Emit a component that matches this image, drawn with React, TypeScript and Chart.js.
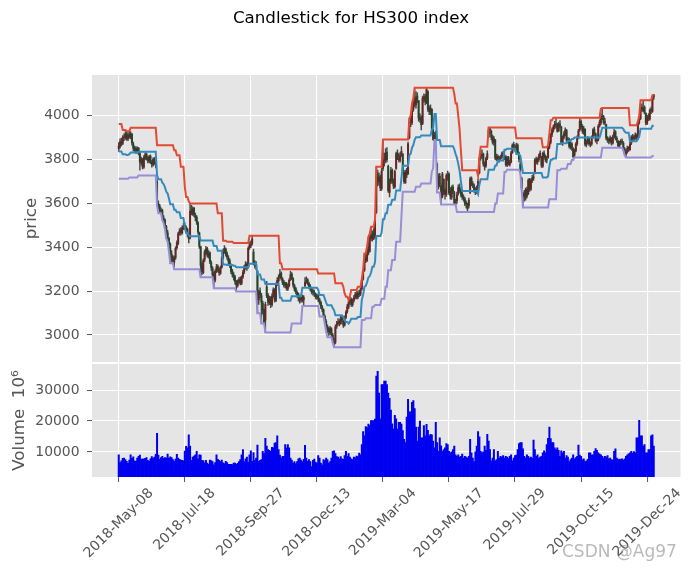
import React, { useEffect, useRef } from 'react';
import { Chart, registerables } from 'chart.js';

Chart.register(...registerables);

const TITLE = 'Candlestick for HS300 index';
const tickIndex = [0, 50, 100, 150, 200, 250, 300, 350, 400];
const tickLabels = ['2018-May-08', '2018-Jul-18', '2018-Sep-27', '2018-Dec-13', '2019-Mar-04', '2019-May-17', '2019-Jul-29', '2019-Oct-15', '2019-Dec-24'];
const priceTicks = [3000, 3200, 3400, 3600, 3800, 4000];
const volumeTicks = [10000, 20000, 30000];

const opens = [
3850,3860,3884,3874,3900,3900,3918,3895,3914,3902,
3915,3872,3850,3852,3838,3851,3828,3785,3800,3766,
3808,3825,3806,3793,3815,3788,3776,3803,3785,3700,
3598,3588,3570,3568,3532,3524,3495,3466,3440,3415,
3370,3355,3332,3354,3398,3418,3466,3478,3465,3490,
3500,3490,3482,3458,3442,3570,3555,3578,3545,3538,
3512,3466,3402,3320,3284,3345,3375,3396,3360,3375,
3330,3305,3280,3250,3292,3312,3296,3282,3310,3350,
3384,3392,3372,3352,3340,3318,3292,3275,3265,3242,
3225,3242,3255,3236,3265,3288,3308,3325,3310,3398,
3408,3418,3380,3325,3312,3290,3160,3200,3180,3146,
3115,3068,3220,3182,3146,3168,3138,3180,3208,3158,
3235,3248,3265,3282,3255,3242,3225,3235,3212,3225,
3255,3278,3258,3225,3212,3195,3188,3165,3158,3178,
3160,3225,3245,3252,3235,3222,3210,3202,3192,3186,
3172,3180,3162,3148,3128,3115,3085,3062,3038,3028,
3012,3028,3000,2970,2968,3040,3052,3062,3052,3080,
3062,3046,3082,3108,3128,3152,3162,3138,3158,3172,
3188,3172,3192,3186,3210,3255,3296,3352,3342,3398,
3382,3455,3438,3465,3448,3560,3735,3698,3722,3668,
3760,3796,3798,3834,3770,3650,3698,3752,3698,3676,
3760,3830,3808,3796,3822,3825,3742,3695,3745,3735,
3900,3978,3968,4028,4070,4050,4090,4068,3982,3995,
3965,4078,4090,4062,4110,4035,4018,4030,3935,3888,
3915,3780,3680,3725,3680,3632,3710,3660,3640,3722,
3735,3655,3628,3675,3650,3598,3612,3645,3675,3660,
3645,3630,3620,3604,3598,3590,3650,3715,3690,3682,
3660,3652,3670,3740,3808,3820,3825,3778,3772,3808,
3905,3940,3930,3905,3878,3890,3805,3815,3798,3806,
3812,3828,3815,3812,3775,3810,3778,3790,3832,3870,
3855,3845,3866,3830,3780,3715,3640,3645,3625,3665,
3645,3710,3665,3705,3722,3740,3802,3788,3800,3815,
3810,3770,3830,3815,3798,3810,3858,3880,3915,3936,
3950,3962,3955,3932,3962,3950,3872,3902,3915,3932,
3885,3892,3858,3872,3850,3820,3840,3872,3902,3935,
3972,3952,3925,3938,3868,3880,3898,3870,3872,3905,
3938,3918,3885,3890,3955,3968,3992,3995,3968,3960,
3895,3892,3882,3895,3875,3906,3928,3898,3885,3860,
3878,3885,3876,3848,3825,3838,3852,3846,3875,3905,
3895,3900,3912,3905,3970,3988,4038,4025,4038,4010,
3965,3998,3985,4028,4020,4085
];

const highs = [
3878,3895,3898,3910,3918,3928,3925,3922,3930,3928,
3920,3880,3862,3860,3858,3856,3834,3812,3806,3818,
3832,3830,3815,3820,3822,3796,3808,3810,3792,3712,
3612,3596,3580,3574,3545,3530,3500,3478,3446,3420,
3385,3362,3360,3402,3430,3468,3486,3490,3498,3510,
3512,3498,3488,3465,3600,3592,3585,3582,3556,3545,
3518,3470,3406,3332,3348,3388,3405,3400,3385,3380,
3338,3312,3288,3298,3322,3320,3306,3315,3360,3392,
3408,3398,3380,3362,3348,3325,3300,3285,3272,3250,
3252,3262,3265,3270,3295,3318,3335,3330,3402,3425,
3430,3453,3392,3340,3335,3295,3205,3215,3190,3155,
3120,3150,3245,3190,3178,3175,3188,3215,3212,3238,
3262,3275,3300,3288,3262,3250,3242,3240,3232,3258,
3290,3285,3262,3232,3218,3202,3192,3175,3185,3182,
3180,3262,3266,3258,3242,3230,3218,3210,3205,3192,
3188,3186,3168,3155,3136,3120,3092,3070,3046,3035,
3040,3034,3008,2985,3045,3062,3075,3070,3085,3090,
3068,3088,3112,3140,3160,3175,3170,3165,3180,3195,
3198,3200,3205,3215,3255,3300,3372,3368,3405,3448,
3462,3494,3475,3485,3528,3767,3752,3740,3730,3760,
3892,3830,3850,3855,3775,3712,3765,3758,3712,3752,
3835,3845,3828,3832,3860,3828,3750,3752,3760,3880,
3988,4000,4040,4080,4125,4110,4105,4070,4010,4000,
4090,4100,4098,4128,4115,4045,4050,4032,3942,3925,
3930,3785,3735,3738,3690,3742,3712,3668,3735,3748,
3740,3672,3680,3685,3655,3620,3652,3685,3690,3668,
3655,3640,3628,3612,3602,3625,3720,3722,3700,3690,
3672,3680,3712,3810,3840,3845,3830,3790,3812,3840,
3946,3945,3935,3912,3905,3892,3825,3822,3815,3820,
3835,3838,3825,3818,3815,3815,3798,3838,3872,3880,
3868,3875,3872,3835,3790,3720,3652,3660,3670,3675,
3712,3715,3712,3728,3735,3805,3812,3808,3825,3840,
3815,3835,3840,3822,3815,3865,3885,3920,3945,3958,
3975,3991,3965,3970,3978,3952,3908,3928,3945,3938,
3902,3898,3880,3878,3855,3848,3878,3908,3938,3988,
3982,3960,3952,3942,3890,3905,3902,3882,3908,3942,
3948,3922,3898,3960,3982,4010,4036,4002,3988,3962,
3905,3900,3908,3902,3912,3938,3932,3905,3888,3885,
3892,3895,3882,3855,3845,3862,3860,3880,3910,3915,
3912,3922,3918,3975,3998,4045,4055,4071,4045,4015,
4002,4010,4032,4040,4088,4094
];

const lows = [
3838,3852,3862,3868,3886,3892,3888,3886,3898,3895,
3866,3840,3832,3828,3830,3822,3752,3776,3758,3760,
3800,3798,3785,3786,3782,3766,3770,3778,3762,3590,
3575,3560,3556,3524,3510,3482,3440,3426,3395,3327,
3335,3328,3300,3345,3390,3412,3455,3455,3460,3480,
3482,3466,3448,3420,3438,3548,3545,3540,3522,3505,
3460,3395,3263,3275,3280,3335,3365,3355,3350,3325,
3295,3262,3213,3242,3285,3288,3272,3276,3305,3345,
3372,3360,3345,3326,3308,3280,3265,3250,3232,3198,
3218,3235,3228,3230,3258,3280,3300,3295,3305,3390,
3398,3410,3320,3305,3298,3099,3140,3170,3053,3095,
3055,3012,3170,3135,3138,3125,3130,3172,3150,3152,
3225,3240,3258,3250,3230,3218,3215,3205,3202,3220,
3248,3252,3218,3200,3188,3172,3155,3145,3150,3150,
3132,3218,3235,3228,3210,3200,3188,3182,3176,3165,
3162,3152,3140,3120,3105,3084,3055,3030,3010,2998,
3002,2992,2965,2944,2960,3030,3045,3042,3048,3058,
3035,3040,3075,3100,3120,3140,3130,3130,3150,3165,
3165,3165,3175,3180,3205,3250,3290,3330,3335,3365,
3378,3430,3428,3435,3440,3555,3680,3685,3658,3660,
3750,3770,3785,3790,3650,3630,3690,3692,3668,3670,
3755,3800,3790,3788,3815,3742,3691,3692,3718,3732,
3895,3950,3960,4020,4040,4035,4060,3975,3970,3935,
3960,4062,4050,4055,4020,4005,4005,3930,3890,3889,
3895,3652,3665,3675,3595,3625,3640,3620,3632,3705,
3640,3620,3618,3645,3595,3590,3600,3638,3650,3630,
3618,3610,3590,3580,3561,3580,3645,3680,3672,3650,
3640,3645,3665,3735,3798,3805,3770,3752,3765,3800,
3900,3918,3890,3870,3865,3800,3795,3790,3788,3795,
3805,3808,3800,3770,3768,3775,3770,3785,3828,3845,
3838,3835,3828,3790,3738,3660,3582,3610,3615,3625,
3640,3655,3660,3695,3705,3735,3780,3778,3792,3808,
3765,3765,3805,3790,3785,3805,3850,3872,3905,3925,
3940,3945,3925,3928,3945,3870,3865,3895,3908,3882,
3875,3852,3848,3842,3808,3810,3835,3865,3895,3930,
3940,3920,3915,3862,3858,3872,3865,3858,3865,3898,
3910,3880,3872,3885,3948,3960,3982,3962,3958,3890,
3878,3872,3875,3866,3870,3898,3890,3878,3855,3856,
3868,3870,3842,3820,3810,3830,3838,3842,3868,3888,
3885,3892,3890,3900,3962,3982,4020,4018,4008,3958,
3960,3978,3980,4010,4015,4075
];

const closes = [
3862,3881,3876,3898,3902,3915,3898,3912,3906,3918,
3876,3852,3848,3841,3849,3832,3788,3802,3768,3810,
3822,3808,3796,3812,3790,3779,3801,3787,3774,3601,
3590,3572,3565,3536,3520,3498,3462,3445,3412,3374,
3352,3338,3352,3396,3420,3462,3474,3468,3488,3497,
3492,3480,3460,3438,3564,3560,3574,3548,3535,3515,
3470,3405,3318,3290,3340,3378,3392,3365,3372,3335,
3308,3275,3252,3290,3310,3298,3285,3306,3352,3380,
3395,3370,3355,3338,3320,3290,3276,3262,3245,3228,
3240,3252,3238,3262,3285,3310,3322,3305,3395,3410,
3415,3438,3330,3318,3322,3165,3195,3185,3150,3112,
3060,3140,3180,3150,3165,3140,3178,3205,3160,3230,
3250,3262,3280,3258,3240,3228,3232,3215,3222,3250,
3275,3262,3228,3210,3198,3185,3168,3160,3175,3162,
3172,3240,3250,3238,3220,3212,3200,3195,3188,3175,
3178,3165,3150,3130,3118,3090,3068,3040,3025,3015,
3030,3005,2975,2964,3036,3050,3060,3055,3078,3068,
3045,3080,3105,3130,3150,3160,3140,3155,3170,3185,
3175,3190,3185,3205,3250,3290,3350,3340,3395,3375,
3450,3440,3460,3445,3520,3729,3700,3720,3672,3748,
3794,3800,3830,3800,3658,3695,3750,3700,3680,3745,
3826,3810,3800,3820,3838,3750,3700,3740,3730,3872,
3973,3970,4022,4063,4057,4085,4075,3990,3988,3960,
4080,4085,4065,4120,4030,4020,4035,3940,3890,3910,
3913,3688,3721,3689,3628,3734,3654,3643,3727,3728,
3648,3634,3670,3655,3603,3606,3640,3672,3662,3641,
3630,3623,3600,3597,3575,3616,3712,3688,3685,3659,
3655,3667,3701,3803,3818,3822,3780,3768,3805,3826,
3935,3937,3902,3880,3896,3808,3810,3800,3804,3808,
3826,3818,3810,3777,3808,3780,3787,3830,3866,3858,
3848,3864,3835,3802,3747,3669,3634,3632,3661,3634,
3706,3668,3704,3716,3716,3799,3790,3798,3816,3830,
3775,3828,3812,3800,3800,3860,3876,3913,3935,3949,
3960,3959,3930,3960,3954,3877,3900,3918,3935,3890,
3890,3860,3870,3853,3814,3838,3870,3900,3930,3975,
3950,3930,3940,3870,3878,3895,3872,3870,3900,3935,
3920,3887,3886,3952,3970,3990,3998,3970,3973,3898,
3890,3885,3898,3877,3904,3925,3900,3890,3862,3877,
3880,3880,3850,3828,3836,3851,3849,3871,3902,3897,
3903,3910,3900,3968,3985,4033,4030,4034,4017,3967,
3994,3990,4025,4023,4081,4097
];

const upperBand = [
3962,3962,3962,3935,3935,3935,3930,3930,3930,3945,
3945,3945,3945,3945,3945,3945,3945,3945,3945,3945,
3945,3945,3945,3945,3945,3945,3945,3945,3945,3866,
3866,3866,3866,3866,3866,3866,3866,3866,3866,3866,
3866,3866,3843,3843,3820,3820,3820,3767,3767,3767,
3676,3630,3630,3610,3600,3600,3600,3600,3600,3600,
3600,3600,3600,3600,3600,3600,3600,3600,3600,3600,
3600,3600,3600,3600,3600,3555,3555,3555,3555,3430,
3430,3430,3425,3425,3425,3425,3425,3420,3420,3420,
3420,3420,3420,3420,3420,3420,3420,3420,3420,3453,
3453,3453,3453,3453,3453,3453,3453,3453,3453,3453,
3453,3453,3453,3453,3453,3453,3453,3453,3453,3453,
3453,3453,3327,3327,3300,3300,3300,3300,3300,3300,
3300,3300,3300,3300,3300,3300,3300,3300,3300,3300,
3300,3300,3300,3300,3300,3300,3300,3300,3300,3300,
3300,3281,3281,3281,3281,3281,3281,3281,3281,3281,
3281,3281,3281,3281,3236,3236,3236,3236,3236,3236,
3220,3190,3175,3175,3160,3178,3205,3205,3205,3205,
3205,3220,3220,3220,3255,3300,3372,3372,3405,3448,
3462,3494,3494,3494,3528,3767,3767,3767,3767,3767,
3892,3892,3892,3892,3892,3892,3892,3892,3892,3892,
3892,3892,3892,3892,3892,3892,3892,3892,3892,3892,
3988,4000,4056,4080,4128,4128,4128,4128,4128,4128,
4128,4128,4128,4128,4128,4128,4128,4128,4128,4128,
4128,4128,4128,4128,4128,4128,4128,4128,4128,4128,
4128,4128,4128,4128,4100,4056,4056,4000,3940,3843,
3752,3752,3752,3752,3752,3752,3752,3752,3752,3752,
3752,3752,3725,3810,3859,3859,3859,3859,3859,3859,
3946,3946,3946,3946,3946,3946,3946,3946,3946,3946,
3946,3946,3946,3946,3946,3946,3946,3946,3946,3946,
3946,3897,3897,3897,3897,3897,3897,3897,3897,3897,
3897,3897,3897,3897,3897,3897,3897,3897,3897,3897,
3897,3856,3856,3856,3856,3865,3920,3980,3980,3991,
3991,3991,3991,3991,3991,3991,3991,3991,3991,3991,
3991,3991,3991,3991,3991,3991,3991,3991,3991,3991,
3991,3991,3991,3991,3991,3991,3991,3991,3991,3991,
3991,3991,3991,3991,3991,4033,4036,4036,4036,4036,
4036,4036,4036,4036,4036,4036,4036,4036,4036,4036,
4036,4036,4036,4036,4036,4036,4036,3957,3957,3957,
3957,3957,3957,3975,4000,4071,4071,4071,4071,4071,
4071,4071,4071,4071,4094,4094
];

const lowerBand = [
3713,3713,3713,3713,3713,3713,3713,3713,3719,3719,
3719,3719,3719,3719,3719,3728,3728,3728,3728,3728,
3728,3728,3728,3728,3728,3728,3728,3728,3728,3590,
3555,3555,3555,3524,3510,3482,3440,3426,3380,3327,
3327,3327,3300,3300,3300,3300,3300,3300,3300,3300,
3300,3300,3300,3300,3300,3300,3300,3300,3300,3300,
3300,3300,3263,3263,3263,3263,3263,3263,3263,3263,
3263,3263,3213,3213,3213,3213,3213,3213,3213,3213,
3213,3213,3213,3213,3213,3213,3213,3213,3213,3198,
3198,3198,3198,3198,3198,3198,3198,3198,3198,3198,
3198,3198,3198,3198,3198,3099,3099,3099,3053,3053,
3053,3012,3012,3012,3012,3012,3012,3012,3012,3012,
3012,3012,3012,3012,3012,3012,3012,3012,3012,3012,
3012,3053,3053,3053,3053,3053,3053,3053,3053,3132,
3132,3132,3132,3132,3132,3132,3132,3132,3132,3132,
3132,3132,3084,3084,3084,3084,3050,3015,2990,2990,
2990,2990,2965,2944,2944,2944,2944,2944,2944,2944,
2944,2944,2944,2944,2944,2944,2944,2944,2944,2944,
2944,2944,2944,2944,3068,3068,3068,3076,3076,3076,
3076,3076,3129,3129,3137,3137,3137,3137,3137,3165,
3165,3165,3220,3220,3296,3296,3296,3342,3342,3342,
3426,3426,3426,3426,3540,3653,3653,3653,3653,3653,
3653,3653,3653,3653,3653,3676,3676,3676,3676,3691,
3691,3691,3691,3691,3691,3691,3691,3745,3760,3889,
3889,3650,3650,3650,3595,3595,3595,3595,3595,3595,
3595,3595,3595,3595,3595,3595,3561,3561,3561,3561,
3561,3561,3561,3561,3561,3561,3561,3561,3561,3561,
3561,3561,3561,3561,3561,3561,3561,3561,3561,3561,
3561,3561,3561,3561,3561,3600,3600,3645,3645,3645,
3645,3645,3744,3744,3754,3754,3754,3754,3754,3754,
3754,3754,3754,3754,3738,3660,3582,3582,3582,3582,
3582,3582,3582,3582,3582,3582,3582,3582,3582,3582,
3582,3582,3582,3582,3582,3582,3619,3619,3619,3619,
3619,3619,3752,3752,3752,3758,3758,3758,3758,3758,
3780,3780,3780,3798,3798,3810,3810,3810,3810,3810,
3810,3810,3810,3810,3810,3810,3810,3810,3810,3810,
3810,3810,3810,3810,3810,3810,3854,3854,3854,3854,
3854,3854,3854,3854,3854,3854,3854,3854,3854,3854,
3854,3854,3842,3820,3810,3810,3810,3810,3810,3810,
3810,3810,3810,3810,3810,3810,3810,3810,3810,3810,
3810,3810,3810,3810,3816,3816
];

const volumes = [
9100,6600,7100,7900,8000,7500,7000,6300,7400,9100,
7900,8400,7100,7000,8000,8600,9000,7600,7800,7700,
7900,8200,7300,7000,7800,8500,7900,8300,9200,16000,
9000,7600,8200,8600,7900,8200,8000,9300,8000,8400,
8200,7500,7000,7700,9200,8000,7600,7400,7300,7100,
10300,11800,11300,15500,11900,7300,8300,8700,9100,10200,
7800,9100,9000,7300,7200,6500,7300,6400,6000,7400,
7200,6900,5800,6600,9100,7600,7300,6900,7400,6500,
6200,7000,6600,6000,6000,6000,5900,6400,6400,6000,
6300,6900,7500,9100,10800,6900,7800,8300,6700,9100,
10400,7000,9800,7300,8000,12200,7000,7300,7500,10200,
9500,14400,11900,10800,10500,10200,11500,11300,12900,13000,
15200,10800,9000,8000,8600,8600,12400,11300,12400,11300,
8000,7400,6400,6900,6200,6900,7800,8000,7400,6900,
7600,12100,8000,7000,7500,6900,5300,7300,7700,6700,
6400,8800,8000,6400,5800,7500,7200,8000,7500,6400,
6900,8000,10200,10400,9500,8500,8300,7800,8500,7800,
7600,8800,10200,8600,9500,8300,7800,7500,8300,8100,
8700,8500,9600,9100,12400,16600,15200,18200,17900,19000,
18500,20100,20100,20100,20600,34500,36100,29000,20700,31800,
31800,32900,32900,31800,29000,27300,23500,19100,17400,21800,
20700,17400,19600,19600,19000,16900,14100,13000,21300,27000,
23000,23000,26000,26600,24000,18000,13500,18000,20000,14600,
14600,18500,15200,18900,17000,15200,15700,15500,13500,11300,
19600,13000,10200,14600,12000,10200,10800,11300,12700,12400,
10200,9700,10000,10800,11900,9100,8600,9100,8300,8600,
9300,8000,8600,8300,8000,8600,14100,9700,8000,6900,
10000,11900,16600,14900,10200,9700,10000,11900,10500,15700,
13500,10800,7100,8000,10800,7100,7500,10200,8000,8600,
8300,8800,8000,8600,8300,7900,8600,9100,7100,8000,
8800,9000,10800,12700,13000,13000,11000,8600,8000,9100,
8600,8000,8300,7900,13800,10800,8600,9100,8000,8300,
8600,9700,10400,9700,12400,14400,18000,14300,13000,13000,
11300,10800,11300,10500,8600,10400,9700,10200,8000,8800,
8300,6900,7500,8000,9100,7800,8200,8600,12200,9000,
8600,7500,7800,6900,7100,7600,9700,9700,9000,9100,
10200,11100,10500,9700,9300,9100,8600,8000,8600,8300,
8800,7800,8000,7500,7400,10200,11000,8000,7500,7700,
7500,7800,7400,7800,8600,9100,9400,9700,10200,9600,
10100,9800,14600,14600,20200,15200,15200,11900,12400,9700,
9700,10800,10800,15200,15500,11900
];

const FONT = '"DejaVu Sans", "Liberation Sans", sans-serif';
const GRAY = '#555555';
const PANEL_BG = '#E5E5E5';
const TICK_FONT = { family: FONT, size: 13.9 };
const LABEL_FONT = { family: FONT, size: 16.7 };

const panelBg = {
  id: 'panelBg',
  beforeDraw(chart: any) {
    const { ctx, chartArea: a } = chart;
    ctx.save();
    ctx.fillStyle = PANEL_BG;
    ctx.fillRect(a.left, a.top, a.right - a.left, a.bottom - a.top);
    ctx.restore();
  },
};

const titlePlugin = {
  id: 'figTitle',
  afterDraw(chart: any) {
    const ctx = chart.ctx;
    ctx.save();
    ctx.font = `16.7px ${FONT}`;
    ctx.fillStyle = '#000000';
    ctx.textAlign = 'center';
    ctx.textBaseline = 'alphabetic';
    ctx.fillText(TITLE, 351, 23);
    ctx.restore();
  },
};

const xLabelPlugin = {
  id: 'xLabels',
  afterDraw(chart: any) {
    const { ctx, chartArea, scales } = chart;
    const xs = scales.x;
    ctx.save();
    ctx.font = `13.9px ${FONT}`;
    ctx.fillStyle = GRAY;
    ctx.textAlign = 'center';
    ctx.textBaseline = 'middle';
    tickIndex.forEach((v, k) => {
      const label = tickLabels[k];
      const w = ctx.measureText(label).width;
      const half = ((w + 11) * Math.SQRT1_2) / 2;
      const x = xs.getPixelForValue(v);
      const y = chartArea.bottom + 10 + half;
      ctx.save();
      ctx.translate(x, y);
      ctx.rotate(-Math.PI / 4);
      ctx.fillText(label, 0, 0);
      ctx.restore();
    });
    ctx.restore();
  },
};

const noPad = (s: any) => {
  s.paddingTop = 0;
  s.paddingBottom = 0;
  s.paddingLeft = 0;
  s.paddingRight = 0;
};

const plainTick = (v: any) => String(v);

export default function App() {
  const priceRef = useRef<HTMLCanvasElement>(null);
  const volRef = useRef<HTMLCanvasElement>(null);

  useEffect(() => {
    const n = closes.length;
    const idx = closes.map((_, i) => i);
    const xMin = -0.05 * (n - 1);
    const xMax = (n - 1) * 1.05;
    const middle = upperBand.map((u, i) => (u + lowerBand[i]) / 2);
    const bodyColors = closes.map((c, i) => (c >= opens[i] ? '#6a2323' : '#23462a'));

    const xScale = (extra: any) => ({
      type: 'linear',
      min: xMin,
      max: xMax,
      offset: false,
      afterBuildTicks: (s: any) => {
        s.ticks = tickIndex.map((v) => ({ value: v }));
      },
      border: { display: false },
      ...extra,
    });

    const price = new Chart(priceRef.current as HTMLCanvasElement, {
      type: 'bar',
      data: {
        datasets: [
          {
            type: 'bar',
            data: idx.map((i) => ({ x: i, y: [lows[i], highs[i]] })),
            backgroundColor: '#474747',
            barThickness: 0.8,
            grouped: false,
            order: 4,
          } as any,
          {
            type: 'bar',
            data: idx.map((i) => ({ x: i, y: [opens[i], closes[i]] })),
            backgroundColor: bodyColors,
            barThickness: 1.3,
            minBarLength: 1,
            grouped: false,
            order: 3,
          } as any,
          {
            type: 'line',
            data: idx.map((i) => ({ x: i, y: lowerBand[i] })),
            borderColor: '#988ED5',
            borderWidth: 2,
            pointRadius: 0,
            order: 2,
          } as any,
          {
            type: 'line',
            data: idx.map((i) => ({ x: i, y: middle[i] })),
            borderColor: '#348ABD',
            borderWidth: 2,
            pointRadius: 0,
            order: 1,
          } as any,
          {
            type: 'line',
            data: idx.map((i) => ({ x: i, y: upperBand[i] })),
            borderColor: '#E24A33',
            borderWidth: 2,
            pointRadius: 0,
            order: 0,
          } as any,
        ],
      },
      options: {
        responsive: false,
        animation: false,
        devicePixelRatio: 1,
        layout: { padding: { left: 0, right: 11.5, top: 75, bottom: 0 } },
        plugins: { legend: { display: false }, tooltip: { enabled: false }, title: { display: false } },
        scales: {
          x: xScale({
            grid: { color: '#FFFFFF', lineWidth: 1.1, drawTicks: false, offset: false },
            ticks: { display: false },
            afterFit: (s: any) => {
              s.height = 0;
              noPad(s);
            },
          }),
          y: {
            type: 'linear',
            min: 2877,
            max: 4186,
            beginAtZero: false,
            afterBuildTicks: (s: any) => {
              s.ticks = priceTicks.map((v) => ({ value: v }));
            },
            afterFit: (s: any) => {
              s.width = 92;
              noPad(s);
            },
            ticks: { color: GRAY, font: TICK_FONT, padding: 7.5, callback: plainTick },
            grid: { color: '#FFFFFF', lineWidth: 1.1, tickColor: GRAY, tickLength: 5, tickWidth: 1 },
            border: { display: false },
            title: { display: true, text: 'price', color: GRAY, font: LABEL_FONT, padding: { top: 21.8, bottom: 0 } },
          },
        } as any,
      },
      plugins: [panelBg, titlePlugin],
    });

    const vol = new Chart(volRef.current as HTMLCanvasElement, {
      type: 'bar',
      data: {
        datasets: [
          {
            data: idx.map((i) => ({ x: i, y: volumes[i] })),
            backgroundColor: '#0000F0',
            barThickness: 1.35,
            grouped: false,
          } as any,
        ],
      },
      options: {
        responsive: false,
        animation: false,
        devicePixelRatio: 1,
        layout: { padding: { left: 0, right: 11.5, top: 0, bottom: 0 } },
        plugins: { legend: { display: false }, tooltip: { enabled: false }, title: { display: false } },
        scales: {
          x: xScale({
            grid: { color: '#FFFFFF', lineWidth: 1.1, drawTicks: true, tickLength: 5, tickColor: GRAY, tickWidth: 1, offset: false },
            ticks: { display: false },
            afterFit: (s: any) => {
              s.height = 94;
              noPad(s);
            },
          }),
          y: {
            type: 'linear',
            min: 1900,
            max: 38430,
            beginAtZero: false,
            afterBuildTicks: (s: any) => {
              s.ticks = volumeTicks.map((v) => ({ value: v }));
            },
            afterFit: (s: any) => {
              s.width = 92;
              noPad(s);
            },
            ticks: { color: GRAY, font: TICK_FONT, padding: 7.5, callback: plainTick },
            grid: { color: '#FFFFFF', lineWidth: 1.1, tickColor: GRAY, tickLength: 5, tickWidth: 1 },
            border: { display: false },
            title: { display: true, text: 'Volume  10⁶', color: GRAY, font: LABEL_FONT, padding: { top: 9.3, bottom: 0 } },
          },
        } as any,
      },
      plugins: [panelBg, xLabelPlugin],
    });

    return () => {
      price.destroy();
      vol.destroy();
    };
  }, []);

  return (
    <div style={{ position: 'absolute', left: 0, top: 0, width: 692, height: 571, background: '#FFFFFF', overflow: 'hidden' }}>
      <canvas ref={priceRef} width={692} height={362} style={{ position: 'absolute', left: 0, top: 0, width: 692, height: 362 }} />
      <canvas ref={volRef} width={692} height={207} style={{ position: 'absolute', left: 0, top: 364, width: 692, height: 207 }} />
      <div
        style={{
          position: 'absolute',
          left: 562,
          top: 541,
          fontFamily: '"DejaVu Sans", sans-serif',
          fontSize: 17,
          color: 'rgba(130,130,130,0.55)',
          whiteSpace: 'nowrap',
          pointerEvents: 'none',
        }}
      >
        CSDN @Ag97
      </div>
    </div>
  );
}
